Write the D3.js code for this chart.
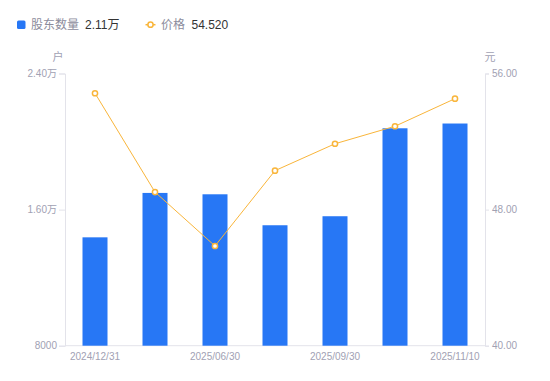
<!DOCTYPE html>
<html>
<head>
<meta charset="utf-8">
<script src="https://cdn.jsdelivr.net/npm/d3@7"></script>
<style>
  html, body { margin: 0; padding: 0; background: #fff; }
  svg { display: block; font-family: "Liberation Sans", "Noto Sans CJK SC", sans-serif; }
</style>
</head>
<body>
<svg id="chart" width="550" height="381"></svg>
<script>
const categories = ["2024/12/31", "2025/03/31", "2025/06/30", "2025/08/31", "2025/09/30", "2025/10/31", "2025/11/10"];
const holders = [14370, 16980, 16900, 15080, 15610, 20780, 21060];
const prices = [54.84, 49.03, 45.86, 50.29, 51.87, 52.90, 54.52];
const leftTicks = [8000, 16000, 24000];
const leftTickLabels = ["8000", "1.60万", "2.40万"];
const rightTicks = [40, 48, 56];
const rightTickLabels = ["40.00", "48.00", "56.00"];
const legendNames = ["股东数量", "价格"];
const legendValues = ["2.11万", "54.520"];
const units = ["户", "元"];

const svg = d3.select("#chart");
const mLeft = 65, mRight = 485, mTop = 73.5, mBottom = 345.7;
const barColor = "#2777F5", lineColor = "#F9B53A";
const axisColor = "#E3E3EA", labelColor = "#A1A1B3";

const x = d3.scaleBand().domain(categories).range([mLeft, mRight]).paddingInner(0).paddingOuter(0);
const yL = d3.scaleLinear().domain([8000, 24000]).range([mBottom, mTop]);
const yR = d3.scaleLinear().domain([40, 56]).range([mBottom, mTop]);

// axes
const gL = svg.append("g").attr("transform", `translate(${mLeft},0)`)
  .call(d3.axisLeft(yL).tickValues(leftTicks).tickSize(6).tickPadding(2)
    .tickFormat((d, i) => leftTickLabels[i]));
const gR = svg.append("g").attr("transform", `translate(${mRight},0)`)
  .call(d3.axisRight(yR).tickValues(rightTicks).tickSize(4).tickPadding(3)
    .tickFormat((d, i) => rightTickLabels[i]));
const gX = svg.append("g").attr("transform", `translate(0,${mBottom})`)
  .call(d3.axisBottom(x).tickSize(0).tickPadding(7)
    .tickFormat((d, i) => i % 2 === 0 ? d : ""));

[gL, gR, gX].forEach(g => {
  g.select(".domain").attr("stroke", axisColor).attr("stroke-width", 1);
  g.selectAll(".tick line").attr("stroke", axisColor);
  g.selectAll(".tick text").attr("fill", labelColor).attr("font-size", 10)
    .attr("font-family", "'Liberation Sans', 'Noto Sans CJK SC', sans-serif");
});
gX.select(".domain").attr("d", `M${mLeft},0H${mRight}`);

// bars
const bw = 25;
svg.append("g").selectAll("rect").data(holders).join("rect")
  .attr("x", (d, i) => x(categories[i]) + x.bandwidth() / 2 - bw / 2)
  .attr("width", bw)
  .attr("y", d => yL(d))
  .attr("height", d => mBottom - yL(d))
  .attr("fill", barColor);

// line
const line = d3.line()
  .x((d, i) => x(categories[i]) + x.bandwidth() / 2)
  .y(d => yR(d));
svg.append("path").datum(prices).attr("d", line)
  .attr("fill", "none").attr("stroke", lineColor).attr("stroke-width", 1);
svg.append("g").selectAll("circle").data(prices).join("circle")
  .attr("cx", (d, i) => x(categories[i]) + x.bandwidth() / 2)
  .attr("cy", d => yR(d))
  .attr("r", 2.6)
  .attr("fill", "#fff").attr("stroke", lineColor).attr("stroke-width", 1.5);

// unit labels
svg.append("text").attr("x", 58).attr("y", 61).attr("text-anchor", "middle")
  .attr("font-size", 11).attr("fill", labelColor).text(units[0]);
svg.append("text").attr("x", 490).attr("y", 61).attr("text-anchor", "middle")
  .attr("font-size", 11).attr("fill", labelColor).text(units[1]);

// legend
const lg = svg.append("g");
lg.append("rect").attr("x", 17).attr("y", 20.5).attr("width", 8.5).attr("height", 8.5)
  .attr("rx", 1.5).attr("fill", barColor);
lg.append("text").attr("x", 31).attr("y", 29).attr("font-size", 12).attr("fill", "#8C8C9C").text(legendNames[0]);
lg.append("text").attr("x", 85).attr("y", 29).attr("font-size", 12).attr("fill", "#333").text(legendValues[0]);
lg.append("line").attr("x1", 145.5).attr("x2", 155.5).attr("y1", 24.7).attr("y2", 24.7)
  .attr("stroke", lineColor).attr("stroke-width", 1.5);
lg.append("circle").attr("cx", 150.5).attr("cy", 24.7).attr("r", 2.6)
  .attr("fill", "#fff").attr("stroke", lineColor).attr("stroke-width", 1.5);
lg.append("text").attr("x", 161).attr("y", 29).attr("font-size", 12).attr("fill", "#8C8C9C").text(legendNames[1]);
lg.append("text").attr("x", 191.5).attr("y", 29).attr("font-size", 12).attr("fill", "#333").text(legendValues[1]);
</script>
</body>
</html>
